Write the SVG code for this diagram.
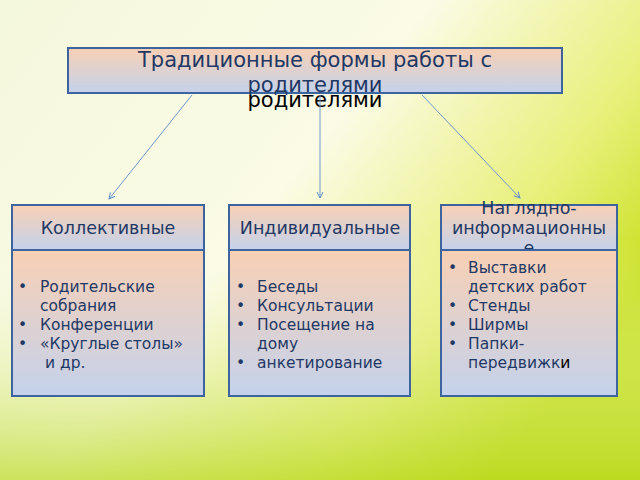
<svg xmlns="http://www.w3.org/2000/svg" width="640" height="480" viewBox="0 0 640 480">
<defs>
<linearGradient id="bg" x1="0" y1="0" x2="1" y2="0.6">
<stop offset="0" stop-color="#f4f8dc"/><stop offset="0.5" stop-color="#fbfbe6"/><stop offset="0.8" stop-color="#e8f07a"/><stop offset="1" stop-color="#c8e020"/>
</linearGradient>
<linearGradient id="bg2" x1="0" y1="0" x2="0" y2="1">
<stop offset="0.5" stop-color="#ffffff" stop-opacity="0"/><stop offset="1" stop-color="#b8d820" stop-opacity="0.7"/>
</linearGradient>
<linearGradient id="box" x1="0" y1="0" x2="0" y2="1">
<stop offset="0" stop-color="#f8d0b4"/><stop offset="1" stop-color="#c4d2ec"/>
</linearGradient>
<marker id="ah" markerWidth="8" markerHeight="8" refX="7" refY="4" orient="auto" markerUnits="userSpaceOnUse">
<path d="M1,1 L7,4 L1,7" fill="none" stroke="#5b8cc8" stroke-width="1"/>
</marker>
<style>
.b{fill:url(#box);stroke:#3e64a0;stroke-width:2}
.t{font-family:"DejaVu Sans",sans-serif;fill:#1f3864;font-size:15.5px}
.h{font-family:"DejaVu Sans",sans-serif;fill:#1f3864;font-size:17.5px}
.c{stroke:#6e9ad0;stroke-width:1;fill:none;marker-end:url(#ah)}
</style>
</defs>
<rect width="640" height="480" fill="url(#bg)"/>
<rect width="640" height="480" fill="url(#bg2)"/>
<g id="title">
<rect class="b" x="68" y="48" width="494" height="45"/>
<text class="h" x="315" y="67" text-anchor="middle" style="font-size:21px">Традиционные формы работы с</text>
<text class="h" x="315" y="92" text-anchor="middle" style="font-size:21px">родителями</text>
<text x="315" y="107" text-anchor="middle" font-family="DejaVu Sans,sans-serif" font-size="21" fill="#000">родителями</text>
</g>
<g id="connectors">
<line class="c" x1="192" y1="95" x2="109" y2="199"/>
<line class="c" x1="320" y1="95" x2="320" y2="198"/>
<line class="c" x1="422" y1="95" x2="520" y2="198"/>
</g>
<g id="n1">
<rect class="b" x="12" y="205" width="192" height="45"/>
<text class="h" x="108" y="234" text-anchor="middle">Коллективные</text>
<rect class="b" x="12" y="250" width="192" height="146"/>
<text class="t"><tspan x="18" y="292">•</tspan><tspan x="40" y="292">Родительские</tspan><tspan x="40" y="311">собрания</tspan><tspan x="18" y="330">•</tspan><tspan x="40" y="330">Конференции</tspan><tspan x="18" y="349">•</tspan><tspan x="40" y="349">«Круглые столы»</tspan><tspan x="40" y="368"> и др.</tspan></text>
</g>
<g id="n2">
<rect class="b" x="229" y="205" width="181" height="45"/>
<text class="h" x="320" y="234" text-anchor="middle">Индивидуальные</text>
<rect class="b" x="229" y="250" width="181" height="146"/>
<text class="t"><tspan x="236" y="292">•</tspan><tspan x="257" y="292">Беседы</tspan><tspan x="236" y="311">•</tspan><tspan x="257" y="311">Консультации</tspan><tspan x="236" y="330">•</tspan><tspan x="257" y="330">Посещение на</tspan><tspan x="257" y="349">дому</tspan><tspan x="236" y="368">•</tspan><tspan x="257" y="368">анкетирование</tspan></text>
</g>
<g id="n3">
<rect class="b" x="441" y="205" width="176" height="45"/>
<text class="h" text-anchor="middle"><tspan x="529" y="214">Наглядно-</tspan><tspan x="529" y="234">информационны</tspan><tspan x="529" y="254">е</tspan></text>
<rect class="b" x="441" y="250" width="176" height="146"/>
<text class="t"><tspan x="448" y="273">•</tspan><tspan x="468" y="273">Выставки</tspan><tspan x="468" y="292">детских работ</tspan><tspan x="448" y="311">•</tspan><tspan x="468" y="311">Стенды</tspan><tspan x="448" y="330">•</tspan><tspan x="468" y="330">Ширмы</tspan><tspan x="448" y="349">•</tspan><tspan x="468" y="349">Папки-</tspan><tspan x="468" y="368">передвижк<tspan fill="#000">и</tspan></tspan></text>
</g>
</svg>
